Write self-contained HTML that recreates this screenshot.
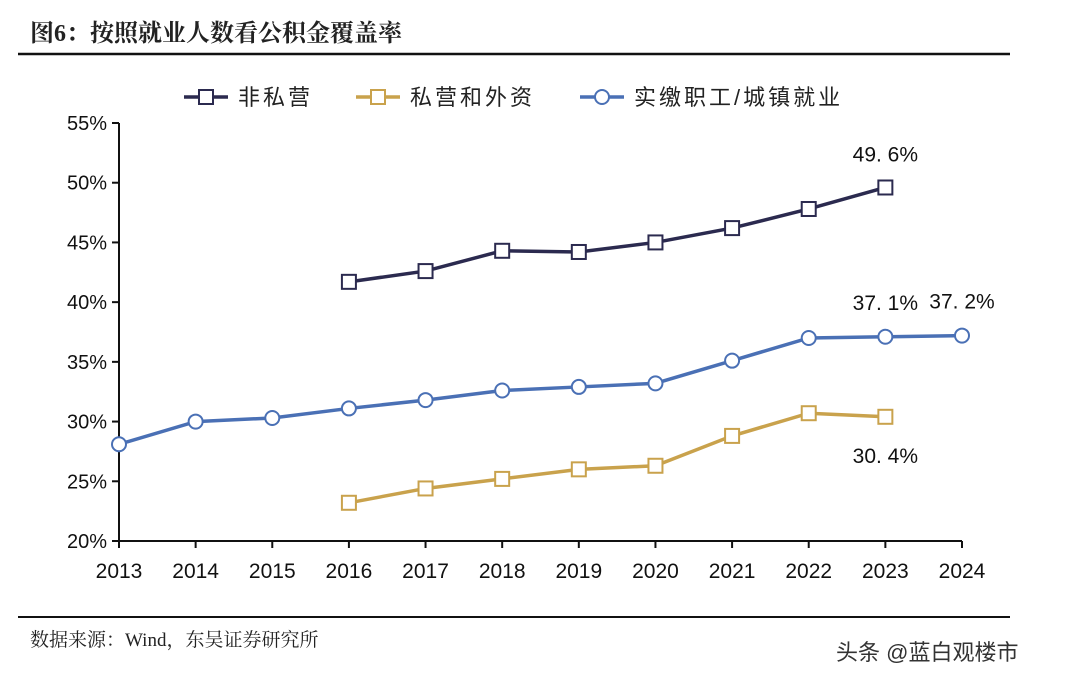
<!DOCTYPE html>
<html><head><meta charset="utf-8">
<style>
body{margin:0;background:#fff;}
svg text{font-family:"Liberation Sans","Noto Sans CJK SC",sans-serif;}
</style></head>
<body>
<svg id="chart" width="1080" height="682" viewBox="0 0 1080 682" xmlns="http://www.w3.org/2000/svg">
<rect width="1080" height="682" fill="#fff"/>
<text x="30" y="41" font-size="24" font-weight="bold" fill="#222" style="font-family:'Liberation Serif','Noto Serif CJK SC',serif">图6：按照就业人数看公积金覆盖率</text>
<line x1="18" y1="54" x2="1010" y2="54" stroke="#111" stroke-width="2.5"/>
<g id="legend"></g>
<g id="axes"></g>
<g id="series"></g>
<line x1="18" y1="617" x2="1010" y2="617" stroke="#111" stroke-width="2"/>
<text x="30" y="646" font-size="19" fill="#222" style="font-family:'Liberation Serif','Noto Serif CJK SC',serif">数据来源：Wind，东吴证券研究所</text>
<text x="836" y="660" font-size="22" fill="#333">头条 @蓝白观楼市</text>
</svg>
<script>
const years=[2013,2014,2015,2016,2017,2018,2019,2020,2021,2022,2023,2024];
const yTicks=[20,25,30,35,40,45,50,55];
const nonPrivate=[null,null,null,41.7,42.6,44.3,44.2,45.0,46.2,47.8,49.6,null];
const privateForeign=[null,null,null,23.2,24.4,25.2,26.0,26.3,28.8,30.7,30.4,null];
const paidRatio=[28.1,30.0,30.3,31.1,31.8,32.6,32.9,33.2,35.1,37.0,37.1,37.2];
const labelsNP=[null,null,null,null,null,null,null,null,null,null,"49.6%",null];
const labelsPF=[null,null,null,null,null,null,null,null,null,null,"30.4%",null];
const labelsPR=[null,null,null,null,null,null,null,null,null,null,"37.1%","37.2%"];

const NS="http://www.w3.org/2000/svg";
const x0=119,x1=962,yb=541,yt=123;
const X=i=>x0+(x1-x0)*i/(years.length-1);
const Y=v=>yb-(v-20)/(55-20)*(yb-yt);
function mk(tag,attrs,parent,txt){const e=document.createElementNS(NS,tag);for(const k in attrs)e.setAttribute(k,attrs[k]);if(txt!=null)e.textContent=txt;parent.appendChild(e);return e;}
const axes=document.getElementById('axes'),ser=document.getElementById('series'),leg=document.getElementById('legend');

let a=mk('line',{x1:x0,y1:yt,x2:x0,y2:yb,stroke:'#111','stroke-width':2},axes);


a=mk('line',{x1:x0,y1:yb,x2:x1,y2:yb,stroke:'#111','stroke-width':2},axes);


yTicks.forEach(v=>{
  const t=mk('line',{x1:x0-7,y1:Y(v),x2:x0,y2:Y(v),stroke:'#111','stroke-width':2},axes);
  
  
  const l=mk('text',{x:x0-12,y:Y(v)+7,'font-size':20,'text-anchor':'end',fill:'#111'},axes,v+'%');
  
  
});
years.forEach((yr,i)=>{
  const t=mk('line',{x1:X(i),y1:yb,x2:X(i),y2:yb+7,stroke:'#111','stroke-width':2},axes);
  
  
  const l=mk('text',{x:X(i),y:yb+37,'font-size':21,'text-anchor':'middle',fill:'#111'},axes,yr);
  
  
});

function drawSeries(vals,color,shape,name,labels,dy){
  const g=mk('g',{},ser);
  
  
  const pts=[];vals.forEach((v,i)=>{if(v!=null)pts.push([X(i),Y(v)]);});
  const p=mk('polyline',{points:pts.map(q=>q.join(',')).join(' '),fill:'none',stroke:color,'stroke-width':3.5},g);
  
  
  pts.forEach(q=>{
    let m;
    if(shape==='sq')m=mk('rect',{x:q[0]-7,y:q[1]-7,width:14,height:14,fill:'#fff',stroke:color,'stroke-width':2},g);
    else m=mk('circle',{cx:q[0],cy:q[1],r:7,fill:'#fff',stroke:color,'stroke-width':2},g);
    
    
  });
  labels.forEach((s,i)=>{
    if(s==null)return;
    const t=mk('text',{x:X(i),y:Y(vals[i])+dy,'font-size':21,'text-anchor':'middle',fill:'#111'},g,s.replace('.','. '));
    
    
  });
}
drawSeries(paidRatio,'#4a70b5','ci','paid-ratio-series',labelsPR,-27);
drawSeries(privateForeign,'#c9a24c','sq','private-foreign-series',labelsPF,46);
drawSeries(nonPrivate,'#2b2a4f','sq','non-private-series',labelsNP,-26);

const legItems=[['非私营','#2b2a4f','sq',184],['私营和外资','#c9a24c','sq',356],['实缴职工/城镇就业','#4a70b5','ci',580]];
legItems.forEach(it=>{
  const g=mk('g',{},leg);
  
  
  mk('line',{x1:it[3],y1:97,x2:it[3]+44,y2:97,stroke:it[1],'stroke-width':3.5},g);
  if(it[2]==='sq')mk('rect',{x:it[3]+15,y:90,width:14,height:14,fill:'#fff',stroke:it[1],'stroke-width':2},g);
  else mk('circle',{cx:it[3]+22,cy:97,r:7,fill:'#fff',stroke:it[1],'stroke-width':2},g);
  mk('text',{x:it[3]+54,y:105,'font-size':22,fill:'#222','letter-spacing':3},g,it[0]);
});
</script>
</body></html>
